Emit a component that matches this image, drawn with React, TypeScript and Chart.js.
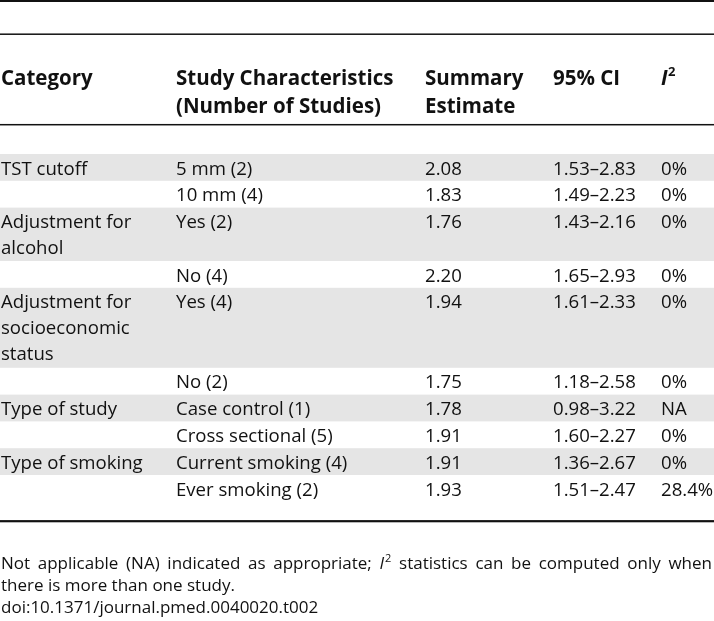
import React, { useEffect, useRef } from "react";
import { Chart, registerables } from "chart.js";

Chart.register(...registerables);

// ---------- data ----------
const headerTop = ["Category", "Study Characteristics", "Summary", "95% CI", "I2"];
const headerBottom = ["", "(Number of Studies)", "Estimate", "", ""];
const categoryLines: string[][] = [
  ["TST cutoff"],
  [],
  ["Adjustment for", "alcohol"],
  [],
  ["Adjustment for", "socioeconomic", "status"],
  [],
  ["Type of study"],
  [],
  ["Type of smoking"],
  [],
];
const characteristics = [
  "5 mm (2)",
  "10 mm (4)",
  "Yes (2)",
  "No (4)",
  "Yes (4)",
  "No (2)",
  "Case control (1)",
  "Cross sectional (5)",
  "Current smoking (4)",
  "Ever smoking (2)",
];
const estimates = [2.08, 1.83, 1.76, 2.2, 1.94, 1.75, 1.78, 1.91, 1.91, 1.93];
const ciLow = [1.53, 1.49, 1.43, 1.65, 1.61, 1.18, 0.98, 1.6, 1.36, 1.51];
const ciHigh = [2.83, 2.23, 2.16, 2.93, 2.33, 2.58, 3.22, 2.27, 2.67, 2.47];
const i2Values = ["0%", "0%", "0%", "0%", "0%", "0%", "NA", "0%", "0%", "28.4%"];
const footLine1 = ["Not", "applicable", "(NA)", "indicated", "as", "appropriate;", "I2", "statistics", "can", "be", "computed", "only", "when"];
const footLine2 = "there is more than one study.";
const footLine3 = "doi:10.1371/journal.pmed.0040020.t002";

// ---------- layout ----------
const W = 714;
const H = 621;
const FONT = '"Open Sans", "Noto Sans", sans-serif';
const SIZE = 18.6;
const HEAD_SIZE = 20.5;
const FOOT_SIZE = 17;
const colX = [1, 176, 425, 553, 661];
const bandTop = 154;
const lineH = 26.6;
const singleH = 26.8;
const GRAY = "#e5e5e5";

const tablePlugin = {
  id: "tablePlugin",
  beforeDraw(chart: any) {
    const ctx = chart.ctx as CanvasRenderingContext2D;
    const xs = chart.scales.x;
    const ys = chart.scales.y;
    const px = (v: number) => xs.getPixelForValue(v);
    const py = (v: number) => ys.getPixelForValue(v);
    ctx.save();
    ctx.fillStyle = "#ffffff";
    ctx.fillRect(0, 0, chart.width, chart.height);

    const setFont = (weight: string, style = "normal", size = SIZE) => {
      ctx.font = `${style} ${weight} ${size}px ${FONT}`;
    };
    const text = (s: string, x: number, y: number) => {
      ctx.fillStyle = "#111111";
      ctx.textBaseline = "alphabetic";
      ctx.textAlign = "left";
      ctx.fillText(s, px(x), py(y));
    };
    const rule = (y: number, t: number) => {
      ctx.fillStyle = "#111111";
      ctx.fillRect(px(0), py(y) - t / 2, px(W) - px(0), t);
    };

    // rows: backgrounds
    let top = bandTop;
    const tops: number[] = [];
    categoryLines.forEach((lines, i) => {
      const n = Math.max(1, lines.length);
      const h = singleH + (n - 1) * lineH;
      tops.push(top);
      if (i % 2 === 0) {
        ctx.fillStyle = GRAY;
        ctx.fillRect(px(0), py(top), px(W) - px(0), py(top + h) - py(top));
      }
      top += h;
    });

    // rules
    rule(1, 2);
    rule(34.2, 1.5);
    rule(124.7, 1.5);
    rule(521.2, 2.2);

    // header
    setFont("bold", "normal", HEAD_SIZE);
    for (let c = 0; c < 4; c++) {
      text(headerTop[c], colX[c], 85);
      if (headerBottom[c]) text(headerBottom[c], colX[c], 112.5);
    }
    // I² header
    setFont("bold", "italic", HEAD_SIZE);
    text("I", colX[4], 85);
    const iw = ctx.measureText("I").width;
    setFont("bold", "normal", 13);
    text("2", colX[4] + iw + 0.5, 76);

    // body
    setFont("normal");
    categoryLines.forEach((lines, i) => {
      const t = tops[i];
      const b = t + 20.5;
      lines.forEach((l, k) => text(l, colX[0], b + k * 26));
      text(characteristics[i], colX[1], b);
      text(estimates[i].toFixed(2), colX[2], b);
      text(`${ciLow[i].toFixed(2)}\u2013${ciHigh[i].toFixed(2)}`, colX[3], b);
      text(i2Values[i], colX[4], b);
    });

    // footnote line 1 (justified)
    const widths = footLine1.map((w) => {
      if (w === "I2") {
        setFont("normal", "italic", FOOT_SIZE);
        const a = ctx.measureText("I").width;
        setFont("normal", "normal", 11);
        return a + ctx.measureText("2").width + 1;
      }
      setFont("normal", "normal", FOOT_SIZE);
      return ctx.measureText(w).width;
    });
    const totalPx = widths.reduce((a, b) => a + b, 0);
    const spanPx = px(712) - px(1);
    const gap = (spanPx - totalPx) / (footLine1.length - 1);
    let cx = px(1);
    const fb = 568.5;
    footLine1.forEach((w, i) => {
      ctx.fillStyle = "#111111";
      ctx.textAlign = "left";
      ctx.textBaseline = "alphabetic";
      if (w === "I2") {
        setFont("normal", "italic", FOOT_SIZE);
        ctx.fillText("I", cx, py(fb));
        const a = ctx.measureText("I").width;
        setFont("normal", "normal", 11);
        ctx.fillText("2", cx + a + 1, py(fb - 7));
      } else {
        setFont("normal", "normal", FOOT_SIZE);
        ctx.fillText(w, cx, py(fb));
      }
      cx += widths[i] + gap;
    });
    setFont("normal", "normal", FOOT_SIZE);
    text(footLine2, 1, 590.5);
    text(footLine3, 1, 612.5);
    ctx.restore();
  },
};

export default function App() {
  const ref = useRef<HTMLCanvasElement | null>(null);
  useEffect(() => {
    if (!ref.current) return;
    const chart = new Chart(ref.current, {
      type: "scatter",
      data: { datasets: [{ data: [], pointRadius: 0 }] },
      options: {
        animation: false,
        responsive: false,
        maintainAspectRatio: false,
        layout: { padding: 0 },
        plugins: { legend: { display: false }, tooltip: { enabled: false } },
        scales: {
          x: { type: "linear", min: 0, max: W, display: false },
          y: { type: "linear", min: 0, max: H, reverse: true, display: false },
        },
      },
      plugins: [tablePlugin],
    });
    return () => chart.destroy();
  }, []);
  return (
    <div style={{ position: "absolute", left: 0, top: 0, width: W, height: H, background: "#fff" }}>
      <canvas ref={ref} width={W} height={H} style={{ display: "block", width: W, height: H }} />
    </div>
  );
}
